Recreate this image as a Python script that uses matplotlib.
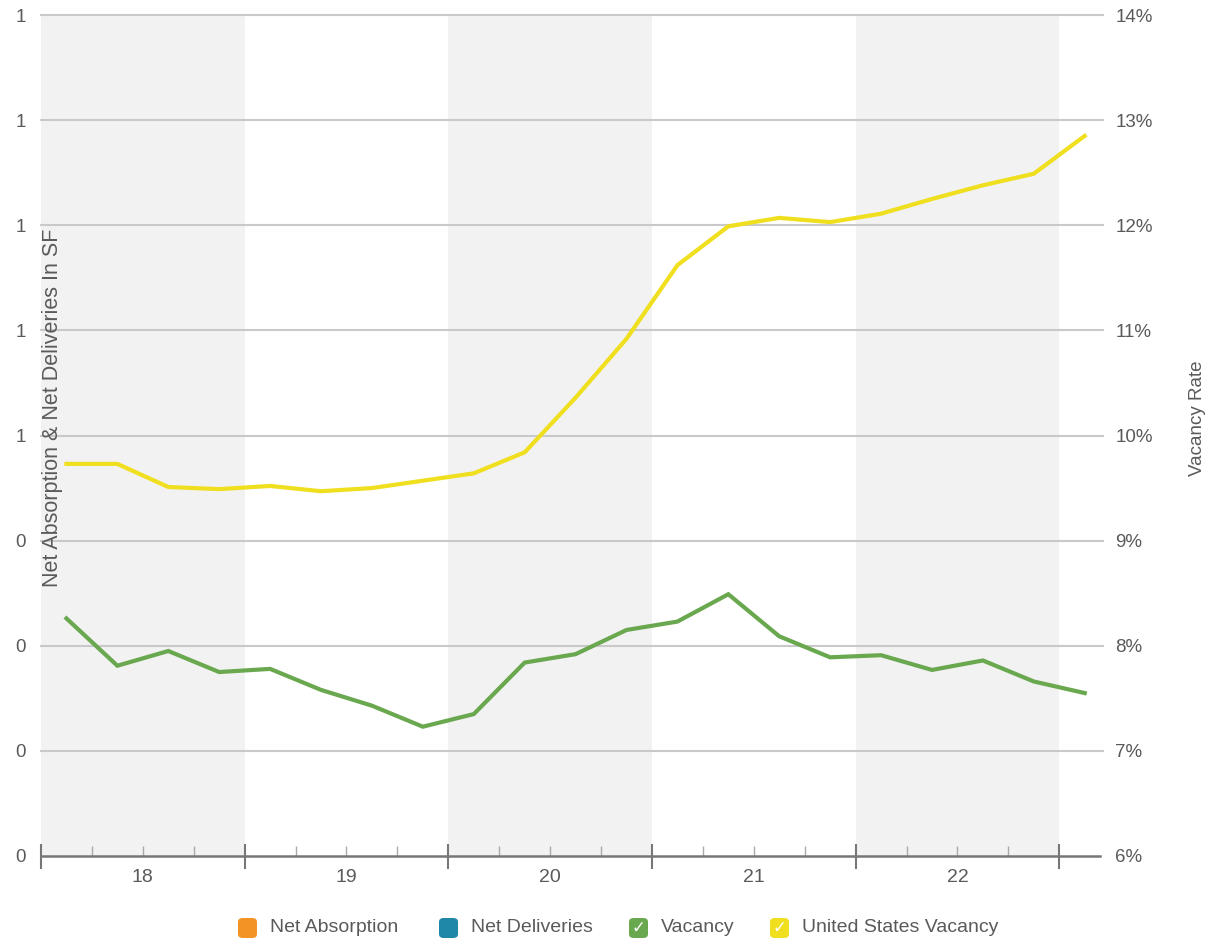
import matplotlib
matplotlib.use("Agg")
import matplotlib.pyplot as plt
from matplotlib.patches import FancyBboxPatch
from matplotlib.ticker import FixedLocator, FuncFormatter

plt.rcParams['font.family'] = ['Liberation Sans', 'DejaVu Sans']

# quarterly series, 2018 Q1 .. 2023 Q1
vacancy = [8.26, 7.81, 7.95, 7.75, 7.78, 7.58, 7.43, 7.23, 7.35, 7.84, 7.92,
           8.15, 8.23, 8.49, 8.09, 7.89, 7.91, 7.77, 7.86, 7.66, 7.55]
us_vacancy = [9.73, 9.73, 9.51, 9.49, 9.52, 9.47, 9.50, 9.57, 9.64, 9.84, 10.36,
              10.92, 11.62, 11.99, 12.07, 12.03, 12.11, 12.25, 12.38, 12.49, 12.85]
years = ['18', '19', '20', '21', '22']
left_labels = ['0', '0', '0', '0', '1', '1', '1', '1', '1']
pct_ticks = [6, 7, 8, 9, 10, 11, 12, 13, 14]

GREEN = '#6aa84f'
YELLOW = '#efdf1f'
ORANGE = '#f39325'
TEAL = '#1f87a8'
TXT = '#5a5a5a'
GRID = '#c9c9c9'

fig = plt.figure(figsize=(12.29, 9.52), dpi=100)
ax = fig.add_axes([41 / 1229, 1 - 856 / 952, (1100 - 41) / 1229, (856 - 15) / 952])
ax2 = ax.twinx()

x = list(range(len(vacancy)))
xmin, xmax = -0.5, 20.3

# alternating year bands
for i in range(len(years)):
    if i % 2 == 0:
        ax.axvspan(i * 4 - 0.5, i * 4 + 3.5, color='#f2f2f2', lw=0, zorder=0)

for t in pct_ticks[1:]:
    ax.plot([xmin, xmax + 0.06], [t, t], color=GRID, lw=1.5, zorder=1, clip_on=False)

ax.set_xlim(xmin, xmax)
ax.set_ylim(6, 14)
ax2.set_ylim(6, 14)

ax2.plot(x, us_vacancy, color=YELLOW, lw=3.0, zorder=3, solid_joinstyle='miter')
ax2.plot(x, vacancy, color=GREEN, lw=3.0, zorder=3, solid_joinstyle='miter')

for a in (ax, ax2):
    for s in a.spines.values():
        s.set_visible(False)

# bottom axis line with year / quarter ticks
ax.plot([xmin, xmax], [6, 6], color='#777777', lw=1.8, zorder=4, clip_on=False)
ax.xaxis.set_major_locator(FixedLocator([-0.5 + 4 * i for i in range(6)]))
ax.xaxis.set_minor_locator(FixedLocator([q - 0.5 for q in range(21) if q % 4 != 0]))
ax.tick_params(axis='x', which='major', length=18, width=1.5, color='#777777',
               direction='inout', labelbottom=False)
ax.tick_params(axis='x', which='minor', length=7, width=1, color='#aaaaaa',
               direction='in')
for i, yr in enumerate(years):
    ax.text(i * 4 + 1.5, 5.88, yr, ha='center', va='top', fontsize=14, color=TXT)

ax.set_yticks(pct_ticks)
ax.set_yticklabels(left_labels)
ax.tick_params(axis='y', length=0, pad=11, labelsize=13.5, labelcolor=TXT)

ax2.set_yticks(pct_ticks)
ax2.yaxis.set_major_formatter(FuncFormatter(lambda v, p: f'{v:.0f}%'))
ax2.tick_params(axis='y', length=0, pad=11, labelsize=13.5, labelcolor=TXT)

fig.text(53 / 1229, 1 - 408 / 952, 'Net Absorption & Net Deliveries In SF',
         rotation=90, ha='center', va='center', fontsize=15.5, color=TXT)
fig.text(1198 / 1229, 1 - 418 / 952, 'Vacancy Rate', rotation=90,
         ha='center', va='center', fontsize=13.5, color=TXT)

# legend
legend_items = [('Net Absorption', ORANGE, False, 238),
                ('Net Deliveries', TEAL, False, 439),
                ('Vacancy', GREEN, True, 629),
                ('United States Vacancy', YELLOW, True, 770)]
W, H = 1229, 952
for label, col, check, px in legend_items:
    box = FancyBboxPatch((px / W, 1 - 938 / H), 19 / W, 20 / H,
                         boxstyle='round,pad=0,rounding_size=0.004',
                         transform=fig.transFigure, facecolor=col,
                         edgecolor='none')
    fig.add_artist(box)
    if check:
        fig.text((px + 9.5) / W, 1 - 928 / H, '✓', ha='center', va='center',
                 fontsize=12, color='white', family='DejaVu Sans')
    fig.text((px + 32) / W, 1 - 928 / H, label, ha='left', va='center',
             fontsize=14, color=TXT)

fig.savefig('out.png', dpi=100)
